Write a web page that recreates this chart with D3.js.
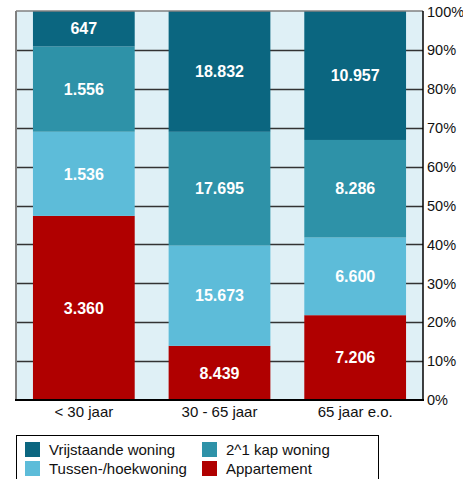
<!DOCTYPE html>
<html>
<head>
<meta charset="utf-8">
<script src="https://cdn.jsdelivr.net/npm/d3@7"></script>
<style>
body{margin:0;background:#fff}
text{font-family:Arial,"Liberation Sans",sans-serif}
</style>
</head>
<body>
<script>
// data
const categories=["< 30 jaar","30 - 65 jaar","65 jaar e.o."]
const series=["Appartement","Tussen-/hoekwoning","2^1 kap woning","Vrijstaande woning"]
const appartement=[3360,8439,7206]
const tussen=[1536,15673,6600]
const kap=[1556,17695,8286]
const vrijstaand=[647,18832,10957]
const ticks=[0,10,20,30,40,50,60,70,80,90,100]

const colors={"Vrijstaande woning":"#0b6680","2^1 kap woning":"#2e92a8","Tussen-/hoekwoning":"#5dbcd9","Appartement":"#b00000"}
const legend_order=["Vrijstaande woning","2^1 kap woning","Tussen-/hoekwoning","Appartement"]

const W=463,H=479
const m={l:16,r:423,t:11,b:400}

const svg=d3.select("body").append("svg").attr("width",W).attr("height",H)

const rows=categories.map((c,i)=>({cat:c,"Appartement":appartement[i],"Tussen-/hoekwoning":tussen[i],"2^1 kap woning":kap[i],"Vrijstaande woning":vrijstaand[i]}))
const stack=d3.stack().keys(series).offset(d3.stackOffsetExpand)(rows)

const x=d3.scaleBand().domain(categories).range([m.l,m.r]).paddingInner(0.25).paddingOuter(0.125)
const y=d3.scaleLinear().domain([0,1]).range([m.b,m.t])

svg.append("rect").attr("x",m.l).attr("y",m.t).attr("width",m.r-m.l).attr("height",m.b-m.t).attr("fill","#dff0f6")

svg.append("g").selectAll("line").data(ticks.slice(1,-1)).enter().append("line")
	.attr("x1",m.l).attr("x2",m.r)
	.attr("y1",d=>Math.round(y(d/100))+0.5).attr("y2",d=>Math.round(y(d/100))+0.5)
	.attr("stroke","#333").attr("stroke-width",1.5)

const fmt=d3.formatLocale({decimal:",",thousands:".",grouping:[3]}).format(",d")

const layers=svg.append("g").selectAll("g").data(stack).enter().append("g").attr("fill",d=>colors[d.key])
layers.selectAll("rect").data(d=>d).enter().append("rect")
	.attr("x",d=>x(d.data.cat)).attr("width",x.bandwidth())
	.attr("y",d=>y(d[1])).attr("height",d=>y(d[0])-y(d[1]))

const labels=svg.append("g")
for(const s of stack){
	for(const d of s){
		labels.append("text")
			.attr("x",x(d.data.cat)+x.bandwidth()/2)
			.attr("y",(y(d[0])+y(d[1]))/2)
			.attr("dy","0.36em")
			.attr("text-anchor","middle")
			.attr("fill","#fff").attr("font-weight","bold").attr("font-size",16)
			.text(fmt(d.data[s.key]))
	}
}

// frame
svg.append("line").attr("x1",m.l).attr("x2",m.r).attr("y1",m.t).attr("y2",m.t).attr("stroke","#808080").attr("stroke-width",1.5)
svg.append("line").attr("x1",m.l).attr("x2",m.l).attr("y1",m.t).attr("y2",m.b).attr("stroke","#808080").attr("stroke-width",2)
svg.append("line").attr("x1",m.r).attr("x2",m.r).attr("y1",m.t).attr("y2",m.b).attr("stroke","#000").attr("stroke-width",1.5)
svg.append("line").attr("x1",m.l-1).attr("x2",m.r+1).attr("y1",m.b).attr("y2",m.b).attr("stroke","#000").attr("stroke-width",2)

// right axis labels
svg.append("g").selectAll("text").data(ticks).enter().append("text")
	.attr("x",m.r+4).attr("y",d=>Math.max(y(d/100),m.t+1)).attr("dy","0.36em")
	.attr("font-size",14.5).attr("fill","#111")
	.text(d=>d+"%")

// x labels
svg.append("g").selectAll("text").data(categories).enter().append("text")
	.attr("x",d=>x(d)+x.bandwidth()/2).attr("y",417)
	.attr("text-anchor","middle").attr("font-size",15).attr("fill","#111")
	.text(d=>d)

// legend
const lg=svg.append("g")
lg.append("rect").attr("x",16.5).attr("y",435.5).attr("width",362).attr("height",60).attr("fill","#fff").attr("stroke","#000").attr("stroke-width",1)
legend_order.forEach((k,i)=>{
	const cx=i%2==0?25:202
	const cy=i<2?442:461
	lg.append("rect").attr("x",cx).attr("y",cy).attr("width",15).attr("height",15).attr("fill",colors[k])
	lg.append("text").attr("x",cx+24).attr("y",cy+7.5).attr("dy","0.36em").attr("font-size",15).attr("fill","#111").text(k)
})
</script>
</body>
</html>
